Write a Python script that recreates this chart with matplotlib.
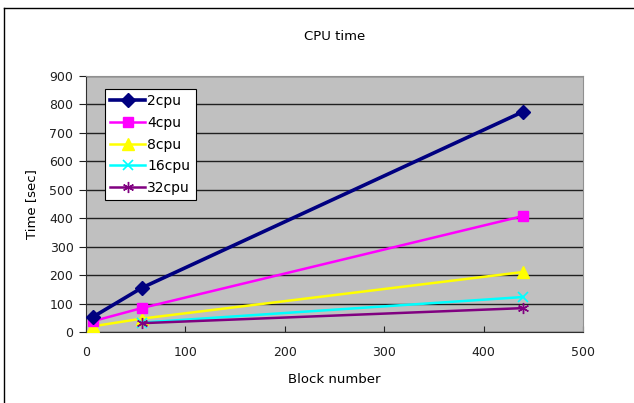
import matplotlib
matplotlib.use('Agg')
import matplotlib.pyplot as plt
from matplotlib.lines import Line2D

# data
blocks = [7, 56, 440]
blocks_big = [56, 440]
cpu2 = [53, 155, 775]
cpu4 = [38, 84, 408]
cpu8 = [20, 47, 211]
cpu16 = [33, 123]
cpu32 = [31, 84]

plt.rcParams['font.family'] = ['DejaVu Sans']
plt.rcParams['font.size'] = 9

fig = plt.figure(figsize=(6.34, 4.03), dpi=100)
ax = fig.add_axes([86/634, 71/403, 497/634, 256/403])
ax.set_facecolor('#c0c0c0')

ax.plot(blocks, cpu2, color='#000080', lw=2.6, marker='D', ms=7, label='2cpu', zorder=5)
ax.plot(blocks, cpu4, color='#ff00ff', lw=1.8, marker='s', ms=7, label='4cpu', zorder=4)
ax.plot(blocks, cpu8, color='#ffff00', lw=1.8, marker='^', ms=8, label='8cpu', zorder=3)
ax.plot(blocks_big, cpu16, color='#00ffff', lw=1.8, marker='x', ms=7, mew=1.2, label='16cpu', zorder=3)
ax.plot(blocks_big, cpu32, color='#800080', lw=1.8, marker=(6, 2, 0), ms=8, mew=1.0, label='32cpu', zorder=3)

ax.set_xlim(0, 500)
ax.set_ylim(0, 900)
ax.set_xticks(range(0, 501, 100))
ax.set_yticks(range(0, 901, 100))
ax.yaxis.grid(True, color='#202020', lw=1.0)
ax.set_axisbelow(True)
ax.tick_params(axis='x', direction='in', length=4, pad=10, colors='#202020')
ax.tick_params(axis='y', direction='out', length=5, pad=4, colors='#202020')
for s in ['top', 'right']:
    ax.spines[s].set_color('#909090')
for s in ['left', 'bottom']:
    ax.spines[s].set_color('#303030')

ax.set_title('CPU time', pad=26, fontsize=9.5)
ax.set_xlabel('Block number', labelpad=10, fontsize=9.5)
ax.set_ylabel('Time [sec]', labelpad=8, fontsize=9.5)

leg = ax.legend(loc='upper left', bbox_to_anchor=(0.038, 0.95), borderaxespad=0,
                frameon=True, fancybox=False, edgecolor='black', framealpha=1,
                handlelength=2.5, borderpad=0.4, labelspacing=0.55, handletextpad=0.15,
                fontsize=10)
leg.get_frame().set_linewidth(0.8)

# outer border of the chart
fig.add_artist(Line2D([4/634, 4/634], [0, 395/403], color='black', lw=1))
fig.add_artist(Line2D([4/634, 1], [395/403, 395/403], color='black', lw=1))

fig.savefig('out.png', dpi=100)
